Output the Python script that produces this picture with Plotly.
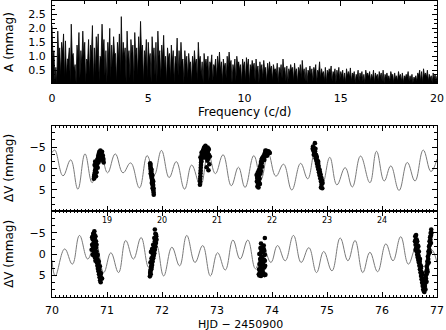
import plotly.graph_objects as go

# ---- amplitude spectrum: local maxima every 0.1 c/d, minima in between ----
freq_step = 0.1
amp_peaks = [
    2.10, 1.20, 0.60, 1.90, 1.30, 1.50, 1.80, 1.55, 0.90, 1.30,
    2.15, 1.10, 0.70, 1.40, 1.85, 1.20, 1.90, 1.50, 0.90, 1.60,
    1.40, 2.10, 1.30, 1.70, 1.80, 1.00, 2.15, 1.60, 1.20, 1.50,
    2.00, 1.40, 1.70, 1.10, 1.50, 1.80, 2.42, 1.50, 1.30, 1.90,
    1.20, 1.60, 1.40, 1.85, 1.30, 1.70, 2.25, 1.40, 1.20, 1.60,
    1.50, 1.10, 1.70, 1.30, 1.50, 1.90, 1.20, 1.40, 1.75, 1.00,
    1.30, 1.10, 1.40, 1.20, 1.00, 1.65, 1.20, 1.50, 0.90, 1.20,
    1.00, 1.10, 0.80, 1.00, 1.20, 0.90, 1.50, 1.00, 0.80, 1.10,
    0.90, 1.00, 0.80, 1.05, 0.70, 0.90, 1.00, 1.15, 0.80, 0.90,
    0.75, 1.00, 1.15, 0.85, 0.70, 0.90, 1.00, 0.80, 0.70, 0.90,
    0.80, 0.95, 0.90, 0.70, 0.85, 0.75, 0.90, 0.65, 0.80, 0.70,
    0.85, 0.60, 0.75, 0.80, 0.65, 0.70, 0.55, 0.75, 0.60, 0.70,
    0.90, 0.60, 0.65, 0.55, 0.70, 0.60, 0.75, 0.55, 0.60, 0.70,
    0.85, 0.55, 0.60, 0.50, 0.65, 0.55, 0.60, 0.70, 0.50, 0.80,
    0.55, 0.45, 0.60, 0.50, 0.55, 0.65, 0.45, 0.55, 0.50, 0.60,
    0.45, 0.50, 0.40, 0.55, 0.45, 0.58, 0.40, 0.45, 0.35, 0.50,
    0.40, 0.45, 0.35, 0.50, 0.40, 0.45, 0.35, 0.50, 0.40, 0.35,
    0.45, 0.40, 0.50, 0.35, 0.40, 0.30, 0.45, 0.35, 0.40, 0.30,
    0.45, 0.35, 0.40, 0.30, 0.35, 0.45, 0.30, 0.35, 0.25, 0.30,
    0.40, 0.50, 0.45, 0.55, 0.40, 0.50, 0.35, 0.30, 0.40, 0.35,
    0.30,
]
amp_troughs = [
    0.90, 0.10, 0.05, 1.00, 0.30, 1.10, 0.20, 0.30, 0.90, 0.05,
    1.00, 0.50, 0.05, 0.90, 0.20, 0.70, 1.00, 0.05, 0.80, 0.30,
    1.10, 0.05, 0.40, 1.00, 0.10, 0.90, 1.20, 0.30, 0.05, 0.90,
    0.20, 0.70, 1.10, 0.05, 0.90, 0.30, 0.80, 1.00, 0.05, 0.90,
    0.20, 1.10, 0.05, 1.00, 0.30, 0.90, 1.10, 0.05, 0.90, 0.20,
    0.90, 0.05, 1.00, 0.30, 0.05, 1.00, 0.20, 0.90, 0.60, 0.05,
    0.90, 0.20, 0.80, 0.05, 0.70, 0.30, 0.60, 0.80, 0.05, 0.70,
    0.20, 0.70, 0.05, 0.60, 0.70, 0.10, 0.80, 0.30, 0.05, 0.70,
    0.60, 0.10, 0.70, 0.05, 0.60, 0.20, 0.60, 0.50, 0.05, 0.60,
    0.20, 0.60, 0.70, 0.05, 0.50, 0.10, 0.70, 0.50, 0.05, 0.60,
    0.10, 0.60, 0.05, 0.50, 0.60, 0.10, 0.50, 0.05, 0.50, 0.20,
    0.50, 0.05, 0.40, 0.50, 0.10, 0.50, 0.35, 0.05, 0.40, 0.20,
    0.45, 0.10, 0.05, 0.40, 0.50, 0.10, 0.40, 0.05, 0.40, 0.20,
    0.40, 0.10, 0.05, 0.40, 0.35, 0.10, 0.45, 0.05, 0.40, 0.20,
    0.35, 0.10, 0.05, 0.35, 0.40, 0.10, 0.35, 0.05, 0.30, 0.15,
    0.30, 0.10, 0.05, 0.30, 0.25, 0.10, 0.30, 0.05, 0.25, 0.10,
    0.25, 0.10, 0.05, 0.30, 0.25, 0.10, 0.20, 0.05, 0.25, 0.10,
    0.25, 0.10, 0.05, 0.25, 0.20, 0.10, 0.30, 0.05, 0.20, 0.10,
    0.25, 0.10, 0.05, 0.20, 0.25, 0.10, 0.15, 0.05, 0.20, 0.10,
    0.30, 0.10, 0.05, 0.30, 0.25, 0.10, 0.20, 0.05, 0.20, 0.10,
]

# ---- multi-periodic fit, extrema (HJD-2450900) ----
fit_mid_t = [18.00, 18.05, 18.20, 18.34, 18.47, 18.60, 18.73, 18.88, 19.01, 19.15,
             19.29, 19.43, 19.59, 19.73, 19.86, 19.99, 20.13, 20.26, 20.41, 20.54,
             20.70, 20.84, 20.97, 21.11, 21.26, 21.39, 21.51, 21.67, 21.80, 21.93,
             22.07, 22.21, 22.36, 22.52, 22.65, 22.78, 22.92, 23.05, 23.18, 23.33,
             23.46, 23.61, 23.78, 23.90, 24.04, 24.16, 24.31, 24.46, 24.60, 24.75,
             24.89, 25.00]
fit_mid_v = [-3.7, -4.3, 1.7, -2.0, 4.8, -3.4, 3.3, -3.8, 1.0, -3.4,
             1.0, -1.3, 4.5, -3.0, 1.5, -4.2, 2.1, -1.6, 4.8, -0.8,
             4.0, -3.5, 1.2, -3.2, 4.0, -0.3, 4.4, -3.0, 2.5, -3.5,
             1.8, -1.0, 5.0, -1.2, 2.4, -3.9, 3.5, -2.6, 3.8, -0.2,
             4.3, -2.9, 3.3, -4.0, 2.9, -0.6, 5.1, -1.4, 2.9, -4.3,
             0.7, -2.2]

fit_low_t = [70.00, 70.06, 70.23, 70.37, 70.50, 70.65, 70.79, 70.94, 71.07, 71.21,
             71.34, 71.48, 71.62, 71.76, 71.90, 72.03, 72.18, 72.32, 72.45, 72.60,
             72.74, 72.88, 73.01, 73.15, 73.29, 73.42, 73.56, 73.70, 73.84, 73.98,
             74.10, 74.24, 74.39, 74.53, 74.67, 74.81, 74.94, 75.09, 75.24, 75.38,
             75.51, 75.65, 75.78, 75.92, 76.07, 76.20, 76.34, 76.48, 76.62, 76.76,
             76.90, 77.00]
fit_low_v = [1.5, 5.2, -1.2, 2.4, -4.4, 1.2, -3.0, 4.4, -0.3, 4.4,
             -3.2, 1.2, -3.9, 3.2, -2.0, 5.2, -1.6, 2.8, -4.4, 2.0,
             -2.0, 5.2, -0.3, 3.8, -3.3, 1.2, -3.3, 3.5, -1.5, 2.0,
             -2.0, 1.6, -4.4, 2.0, -1.5, 4.4, -0.6, 4.0, -3.8, 1.6,
             -3.2, 4.4, -0.4, 4.2, -2.4, 1.6, -4.1, 2.4, -1.5, 3.0,
             -1.0, 2.0]

# ---- observations, middle panel (HJD 2450918-925) ----
mid_obs_t = [
    # night 18
    18.760, 18.765, 18.770, 18.772, 18.775, 18.780, 18.782, 18.785, 18.790, 18.792,
    18.795, 18.800, 18.805, 18.808, 18.812, 18.815, 18.820, 18.825, 18.830, 18.835,
    18.840, 18.845, 18.850, 18.855, 18.860, 18.870, 18.880, 18.890, 18.900, 18.910,
    18.920, 18.930, 18.775, 18.785, 18.800, 18.810, 18.830, 18.845, 18.865, 18.885,
    18.905, 18.925, 18.935, 18.940,
    # night 19
    19.785, 19.788, 19.790, 19.793, 19.795, 19.798, 19.800, 19.802, 19.805, 19.807,
    19.810, 19.812, 19.815, 19.817, 19.820, 19.822, 19.825, 19.828, 19.830, 19.833,
    19.835, 19.838, 19.840, 19.843, 19.845, 19.848, 19.850, 19.795, 19.810, 19.825,
    19.840, 19.830, 19.815,
    # night 20
    20.690, 20.692, 20.695, 20.698, 20.700, 20.703, 20.705, 20.708, 20.710, 20.713,
    20.715, 20.720, 20.725, 20.730, 20.735, 20.740, 20.745, 20.750, 20.755, 20.760,
    20.765, 20.770, 20.775, 20.780, 20.785, 20.790, 20.795, 20.800, 20.805, 20.810,
    20.815, 20.820, 20.825, 20.830, 20.835, 20.840, 20.850, 20.860, 20.870, 20.812,
    20.845, 20.760, 20.780, 20.800, 20.830, 20.850, 20.845, 20.720, 20.700,
    # night 21
    21.720, 21.725, 21.730, 21.735, 21.740, 21.745, 21.750, 21.755, 21.760, 21.765,
    21.770, 21.775, 21.780, 21.785, 21.790, 21.795, 21.800, 21.805, 21.810, 21.815,
    21.820, 21.830, 21.840, 21.850, 21.860, 21.870, 21.880, 21.890, 21.900, 21.920,
    21.935, 21.950, 21.960, 21.740, 21.760, 21.780, 21.800, 21.820, 21.860, 21.880,
    21.910,
    # night 22
    22.740, 22.746, 22.752, 22.758, 22.764, 22.770, 22.776, 22.782, 22.788, 22.794,
    22.800, 22.806, 22.812, 22.818, 22.824, 22.830, 22.836, 22.842, 22.848, 22.854,
    22.860, 22.866, 22.872, 22.878, 22.884, 22.890, 22.896, 22.902, 22.908, 22.914,
    22.920, 22.780, 22.760, 22.790, 22.810, 22.840, 22.870, 22.900, 22.860, 22.890,
]
mid_obs_v = [
    2.4, 1.9, 2.2, 1.4, 1.7, 0.9, 1.3, 0.4, 0.8, -0.2,
    0.3, -0.6, -0.1, -1.0, -0.5, -1.5, -1.1, -2.0, -1.6, -2.4,
    -2.9, -2.2, -3.4, -2.7, -3.9, -3.1, -4.2, -3.6, -2.8, -3.9,
    -2.4, -1.8, -0.8, -1.6, 1.8, 0.9, -0.2, -1.4, -2.0, -2.6,
    -3.2, -3.0, -2.2, -1.4,
    -1.2, -0.6, -0.9, -0.1, 0.3, 0.0, 0.7, 1.1, 0.8, 1.5,
    1.9, 1.4, 2.3, 2.0, 2.7, 3.1, 2.6, 3.5, 3.2, 3.9,
    4.3, 3.8, 4.7, 5.1, 4.6, 5.6, 6.1, 1.2, 0.3, 1.6,
    3.0, 4.6, 3.4,
    3.8, 3.0, 2.4, 1.8, 1.1, 0.5, -0.2, -0.8, -1.4, -2.1,
    -1.7, -2.6, -3.3, -2.9, -3.8, -3.4, -4.1, -3.7, -4.5, -3.9,
    -4.8, -4.2, -5.0, -4.4, -4.9, -5.3, -4.6, -4.0, -4.8, -3.6,
    -4.3, -3.1, -1.8, -4.0, -3.5, -2.3, -3.2, -1.0, -2.8, -0.3,
    0.4, -2.6, -3.2, -2.5, -4.9, -4.4, -4.6, -3.7, -2.6,
    1.5, 3.0, 2.2, 4.2, 1.0, 3.6, 2.6, 4.4, 1.8, 3.2,
    0.8, 2.4, 0.2, -0.4, 1.2, -0.9, -1.5, -0.6, -2.0, -1.3,
    -2.4, -2.0, -2.8, -2.3, -3.2, -3.6, -3.0, -3.9, -4.1, -3.5,
    -4.0, -3.8, -3.6, 2.0, 0.4, 3.6, 0.6, -0.4, -2.0, -4.2,
    -3.0,
    -4.6, -5.1, -4.2, -4.8, -3.9, -4.4, -3.5, -4.0, -3.0, -2.4,
    -3.2, -1.8, -2.6, -1.1, -1.9, -0.4, -1.2, 0.2, -0.6, 0.9,
    0.3, 1.6, 0.8, 2.3, 1.4, 3.0, 2.1, 3.7, 2.8, 4.6,
    3.4, -5.9, -3.2, -4.6, -2.8, -1.6, 1.4, 2.6, 0.2, 4.4,
]

# ---- observations, lower panel (HJD 2450970-977) ----
low_obs_t = [
    # night 70
    70.72, 70.73, 70.74, 70.745, 70.75, 70.755, 70.76, 70.765, 70.77, 70.775,
    70.78, 70.785, 70.79, 70.795, 70.80, 70.805, 70.81, 70.815, 70.82, 70.825,
    70.83, 70.835, 70.84, 70.845, 70.85, 70.855, 70.86, 70.865, 70.87, 70.875,
    70.88, 70.885, 70.89, 70.74, 70.76, 70.78, 70.80, 70.77, 70.75, 70.79,
    70.73, 70.76, 70.79, 70.81, 70.83, 70.85, 70.87, 70.89, 70.91,
    # night 71
    71.78, 71.785, 71.79, 71.795, 71.80, 71.805, 71.81, 71.815, 71.82, 71.825,
    71.83, 71.835, 71.84, 71.845, 71.85, 71.855, 71.86, 71.865, 71.87, 71.875,
    71.88, 71.885, 71.89, 71.895, 71.90, 71.80, 71.82, 71.84, 71.86, 71.88,
    71.79, 71.87, 71.79, 71.81, 71.83, 71.85, 71.87, 71.89, 71.81,
    # night 73
    73.76, 73.765, 73.77, 73.775, 73.78, 73.785, 73.79, 73.795, 73.80, 73.805,
    73.81, 73.815, 73.82, 73.825, 73.83, 73.835, 73.84, 73.845, 73.85, 73.855,
    73.86, 73.865, 73.87, 73.875, 73.88, 73.77, 73.79, 73.81, 73.83, 73.85,
    73.87, 73.80, 73.86, 73.80, 73.87,
    # night 76
    76.60, 76.605, 76.61, 76.615, 76.62, 76.625, 76.63, 76.635, 76.64, 76.645,
    76.65, 76.655, 76.66, 76.665, 76.67, 76.675, 76.68, 76.685, 76.69, 76.695,
    76.70, 76.705, 76.71, 76.715, 76.72, 76.725, 76.73, 76.735, 76.74, 76.745,
    76.75, 76.755, 76.76, 76.765, 76.77, 76.775, 76.78, 76.785, 76.79, 76.795,
    76.80, 76.805, 76.81, 76.815, 76.82, 76.825, 76.83, 76.835, 76.84, 76.845,
    76.85, 76.855, 76.86, 76.865, 76.87, 76.875, 76.88, 76.885, 76.89, 76.895,
    76.90, 76.62, 76.64, 76.66, 76.61, 76.63, 76.65, 76.67, 76.69, 76.71,
    76.73, 76.75, 76.77, 76.79, 76.81, 76.83, 76.85, 76.87, 76.89,
]
low_obs_v = [
    -1.0, -2.2, -3.5, -1.8, -4.3, -2.6, -5.0, -3.1, -5.4, -1.2,
    -3.8, -0.5, -2.4, 0.4, -1.5, 1.2, -0.6, 2.0, 0.5, 2.8,
    1.3, 3.5, 2.2, 4.1, 2.9, 4.8, 3.6, 5.5, 4.3, 6.2,
    5.0, 6.7, 5.6, 0.2, -0.3, 0.8, -3.0, -4.6, -4.8, 1.6,
    -4.0, -1.6, -4.2, -2.2, 0.2, 1.8, 2.9, 4.6, 5.8,
    5.3, 4.5, 3.8, 4.8, 3.0, 3.6, 2.2, 1.5, 2.6, 0.8,
    1.8, 0.1, 1.0, -0.7, 0.4, -1.3, -0.2, -2.0, -1.0, -2.8,
    -1.8, -3.5, -2.6, -4.2, -3.4, -0.5, -1.2, -2.2, -3.8, -4.8,
    2.0, -5.8, 4.2, 1.0, -0.8, -2.0, -3.0, -4.6, 3.2,
    4.8, 3.6, 5.1, 2.4, 4.2, 1.2, 3.0, -0.2, 1.8, -1.0,
    0.6, 2.5, -1.6, 1.0, 3.8, -0.6, 2.0, 4.6, -2.0, 1.4,
    3.2, 5.0, 0.2, 2.8, 4.9, 0.0, -1.4, 3.4, 4.4, -1.2,
    1.6, 5.2, -0.8, -2.5, -3.8,
    -3.0, -4.2, -2.2, -3.5, -1.4, -2.8, -0.6, -2.0, 0.2, -1.2,
    0.8, -0.4, 1.4, 0.4, 2.0, 1.0, 2.8, 1.8, 3.6, 2.6,
    4.4, 3.4, 5.2, 4.2, 6.0, 5.0, 6.8, 5.8, 7.6, 6.6,
    8.4, 7.2, 8.8, 7.8, 8.2, 7.0, 7.6, 6.2, 6.8, 5.2,
    5.8, 4.2, 4.8, 3.0, 3.6, 1.8, 2.4, 0.6, 1.2, -0.6,
    0.0, -1.8, -1.0, -3.0, -2.2, -4.0, -3.4, -5.0, -4.4, -5.8,
    -5.0, -4.5, -3.0, -1.8, -1.0, -3.4, -2.0, -0.6, 1.2, 3.0,
    4.6, 6.2, 9.0, 8.4, 6.6, 4.2, 2.0, -0.4, -2.6,
]

# zig-zag spectrum: peak, trough, peak, ...
spec_f, spec_a = [], []
for i, p in enumerate(amp_peaks):
    spec_f.append(i * freq_step)
    spec_a.append(p)
    if i < len(amp_troughs):
        spec_f.append((i + 0.5) * freq_step)
        spec_a.append(amp_troughs[i])

FONT = "DejaVu Sans"
fit_line = dict(color="#7a7a7a", width=1, shape="spline", smoothing=1.2)
dots = dict(color="black", size=4.6)

fig = go.Figure()
fig.add_trace(go.Scatter(x=spec_f, y=spec_a, mode="lines", fill="tozeroy",
                         fillcolor="black", line=dict(color="black", width=0.8),
                         xaxis="x", yaxis="y"))
fig.add_trace(go.Scatter(x=fit_mid_t, y=fit_mid_v, mode="lines", line=fit_line,
                         xaxis="x2", yaxis="y2"))
fig.add_trace(go.Scatter(x=mid_obs_t, y=mid_obs_v, mode="markers", marker=dots,
                         xaxis="x2", yaxis="y2"))
fig.add_trace(go.Scatter(x=fit_low_t, y=fit_low_v, mode="lines", line=fit_line,
                         xaxis="x3", yaxis="y3"))
fig.add_trace(go.Scatter(x=low_obs_t, y=low_obs_v, mode="markers", marker=dots,
                         xaxis="x3", yaxis="y3"))


def box_axis(**kw):
    d = dict(showline=True, linecolor="black", linewidth=1, mirror="allticks",
             ticks="inside", ticklen=5, tickcolor="black", tickwidth=1,
             showgrid=False, zeroline=False,
             tickfont=dict(family=FONT, size=11, color="black"))
    d.update(kw)
    return d


minor_x = dict(ticks="inside", ticklen=3, tickcolor="black", showgrid=False)

fig.update_layout(
    width=446, height=330,
    margin=dict(l=52, r=9, t=1, b=33),
    paper_bgcolor="white", plot_bgcolor="white",
    showlegend=False,
    xaxis=box_axis(domain=[0, 1], anchor="y", range=[0, 20], dtick=5, tick0=0,
                   ticklabelstandoff=5,
                   minor=dict(minor_x, dtick=5 / 3, tick0=0)),
    yaxis=box_axis(domain=[0.723, 1], anchor="x", range=[0.04, 2.98],
                   dtick=0.5, tick0=0, tickformat=".1f", ticklabelstandoff=3,
                   minor=dict(minor_x, dtick=0.5 / 3, tick0=0)),
    xaxis2=box_axis(domain=[0, 1], anchor="y2", range=[18, 25],
                    tickvals=[19, 20, 21, 22, 23, 24], ticklabelstandoff=1,
                    tickfont=dict(family=FONT, size=8, color="black"),
                    minor=dict(minor_x, dtick=1 / 15, tick0=18, ticklen=2)),
    yaxis2=box_axis(domain=[0.2905, 0.5777], anchor="x2", range=[9.9, -9.9],
                    tickvals=[-5, 0, 5], ticklabelstandoff=3,
                    minor=dict(minor_x, dtick=5 / 3, tick0=0)),
    xaxis3=box_axis(domain=[0, 1], anchor="y3", range=[70, 77], dtick=1,
                    ticklabelstandoff=3,
                    minor=dict(minor_x, dtick=1 / 15, tick0=70, ticklen=2)),
    yaxis3=box_axis(domain=[0, 0.2905], anchor="x3", range=[10.2, -10.2],
                    tickvals=[-5, 0, 5], ticklabelstandoff=3,
                    minor=dict(minor_x, dtick=5 / 3, tick0=0)),
)

title_font = dict(family=FONT, size=12, color="black")
notes = [
    dict(text="Frequency (c/d)", x=0.5, y=0.625, textangle=0),
    dict(text="HJD \u2212 2450900", x=0.49, y=-0.093, textangle=0,
         font=dict(family=FONT, size=11, color="black")),
    dict(text="A (mmag)", x=-0.112, y=0.8615, textangle=-90),
    dict(text="\u0394V (mmag)", x=-0.112, y=0.4358, textangle=-90),
    dict(text="\u0394V (mmag)", x=-0.112, y=0.1453, textangle=-90),
]
for n in notes:
    n.setdefault("font", title_font)
    fig.add_annotation(xref="paper", yref="paper", showarrow=False,
                       xanchor="center", yanchor="middle", borderpad=0, **n)

# page body has an 8px default margin; drop it so the figure sits at (0, 0)
fig.write_html("out.html", config={"displayModeBar": False},
               post_script="document.body.style.margin = '0';")
